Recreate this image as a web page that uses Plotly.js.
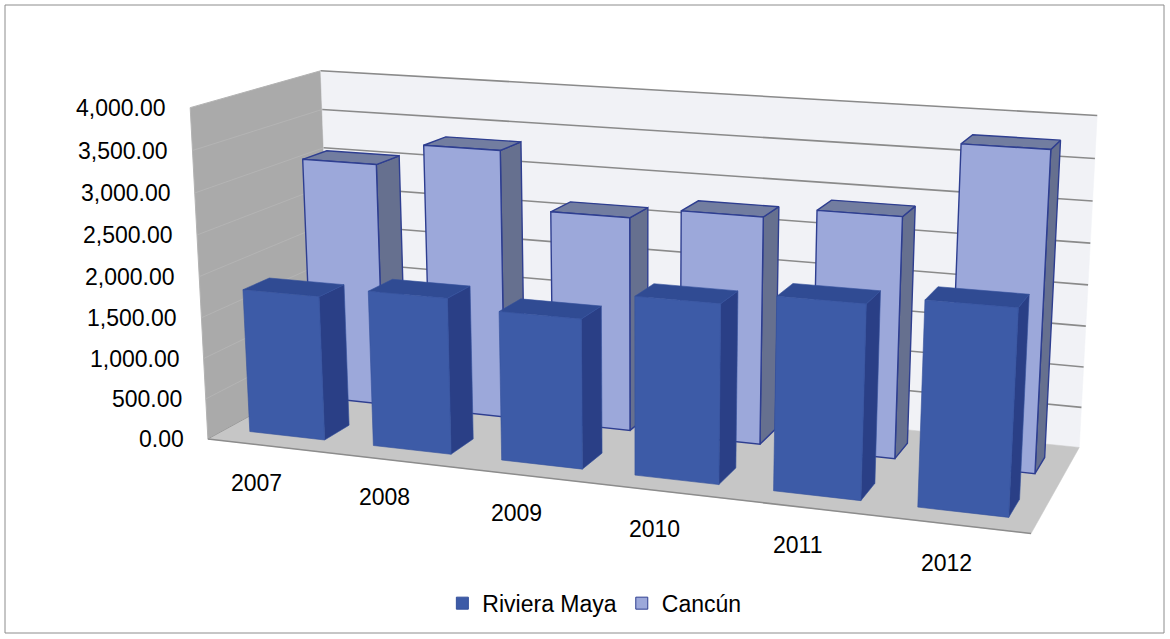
<!DOCTYPE html>
<html>
<head>
<meta charset="utf-8">
<script src="https://cdn.plot.ly/plotly-3.0.1.min.js"></script>
<style>
html,body{margin:0;padding:0;background:#fff;}
#chart{width:1170px;height:639px;}
</style>
</head>
<body>
<div id="chart"></div>
<script>
// ---------------- data ----------------
const categories = ['2007', '2008', '2009', '2010', '2011', '2012'];
const rivieraMaya = [1770, 1890, 1790, 2110, 2250, 2350];
const cancun = [3070, 3350, 2645, 2775, 2900, 3780];
const seriesNames = ['Riviera Maya', 'Cancún'];
const valueTicks = [0, 500, 1000, 1500, 2000, 2500, 3000, 3500, 4000];

// ---------------- 3-D view geometry (world: X = category, Y = depth, Z = value/1000) -------------
const VMAX = 4;
const DEPTH = 2;
const NCAT = categories.length;
const BAR_W = 0.61;
const ROWS = [{y0: 0.27, y1: 0.67}, {y0: 1.27, y1: 1.67}];
const BX = 0.5 - BAR_W / 2;
// where known points of the chart box / bar feet sit on the page (pixels)
const viewCorners = [
  [[0, 0, 0], [207, 437]], [[0, 0, VMAX], [189, 109]],
  [[0, DEPTH, 0], [330, 378]], [[0, DEPTH, VMAX], [322, 70]],
  [[NCAT, 0, 0], [1030, 539]], [[NCAT, DEPTH, 0], [1079, 443]],
  [[NCAT, DEPTH, VMAX], [1097, 115]],
  [[BX, ROWS[0].y0, 0], [251, 429]], [[5 + BX, ROWS[0].y0, 0], [918, 508]],
  [[2 + BX, ROWS[0].y0, 0], [503, 458]],
  [[BX, ROWS[1].y0, 0], [312, 393]], [[2 + BX, ROWS[1].y0, 0], [555, 423]]
];

function solve(A, b) {
  const n = b.length;
  const M = A.map((r, i) => r.concat([b[i]]));
  for (let c = 0; c < n; c++) {
    let p = c;
    for (let r = c + 1; r < n; r++) if (Math.abs(M[r][c]) > Math.abs(M[p][c])) p = r;
    [M[c], M[p]] = [M[p], M[c]];
    for (let r = 0; r < n; r++) {
      if (r === c) continue;
      const f = M[r][c] / M[c][c];
      for (let k = c; k <= n; k++) M[r][k] -= f * M[c][k];
    }
  }
  return M.map((r, i) => r[n] / r[i]);
}
function fitCamera(corr) {
  const rows = [], rhs = [];
  corr.forEach(([P, q]) => {
    const [X, Y, Z] = P, [u, v] = q;
    rows.push([X, Y, Z, 1, 0, 0, 0, 0, -u * X, -u * Y, -u * Z]); rhs.push(u);
    rows.push([0, 0, 0, 0, X, Y, Z, 1, -v * X, -v * Y, -v * Z]); rhs.push(v);
  });
  const ATA = [], ATb = [];
  for (let i = 0; i < 11; i++) {
    ATA.push([]);
    let s = 0;
    for (let r = 0; r < rows.length; r++) s += rows[r][i] * rhs[r];
    ATb.push(s);
    for (let j = 0; j < 11; j++) {
      let t = 0;
      for (let r = 0; r < rows.length; r++) t += rows[r][i] * rows[r][j];
      ATA[i].push(t);
    }
  }
  return solve(ATA, ATb);
}
const cam = fitCamera(viewCorners);
function proj(X, Y, Z) {
  const w = cam[8] * X + cam[9] * Y + cam[10] * Z + 1;
  return [(cam[0] * X + cam[1] * Y + cam[2] * Z + cam[3]) / w,
          (cam[4] * X + cam[5] * Y + cam[6] * Z + cam[7]) / w];
}

// ---------------- styles ----------------
const seriesStyle = [
  {front: '#3d5ba7', side: '#2a3f86', top: '#304b93', edge: '#34509c', edgeW: 0.6},
  {front: '#9ca8da', side: '#66708f', top: '#727da0', edge: '#2e3e90', edgeW: 1.4}
];
const wallStyle = {left: '#aaaaaa', back: '#f1f2f6', floor: '#c6c6c6', grid: '#8a8a8a', leftGrid: '#b4b4b4'};

const traces = [];
function poly(pts3, fill, lineColor, lineW) {
  const p = pts3.map(q => proj(q[0], q[1], q[2]));
  p.push(p[0]);
  traces.push({type: 'scatter', mode: 'lines', x: p.map(a => a[0]), y: p.map(a => a[1]),
    fill: 'toself', fillcolor: fill, line: {color: lineColor, width: lineW},
    hoverinfo: 'skip', showlegend: false});
}
function seg(a, b, color, width) {
  const p = proj(a[0], a[1], a[2]), q = proj(b[0], b[1], b[2]);
  traces.push({type: 'scatter', mode: 'lines', x: [p[0], q[0]], y: [p[1], q[1]],
    line: {color: color, width: width}, hoverinfo: 'skip', showlegend: false});
}

// walls
poly([[0, 0, 0], [0, DEPTH, 0], [0, DEPTH, VMAX], [0, 0, VMAX]], wallStyle.left, '#b3b3b3', 1);
poly([[0, DEPTH, 0], [NCAT, DEPTH, 0], [NCAT, DEPTH, VMAX], [0, DEPTH, VMAX]], wallStyle.back, wallStyle.back, 0.5);
poly([[0, 0, 0], [NCAT, 0, 0], [NCAT, DEPTH, 0], [0, DEPTH, 0]], wallStyle.floor, wallStyle.floor, 0.5);
valueTicks.forEach(t => {
  const z = t / 1000;
  if (t > 0) seg([0, DEPTH, z], [NCAT, DEPTH, z], wallStyle.grid, 1.6);
  if (t > 0 && t < 4000) seg([0, 0, z], [0, DEPTH, z], wallStyle.leftGrid, 1);
});
seg([0, 0, 0], [NCAT, 0, 0], '#8c8c8c', 1.5);
seg([0, 0, 0], [0, DEPTH, 0], '#9a9a9a', 1);

// bars: back row first, left to right
[1, 0].forEach(s => {
  const st = seriesStyle[s];
  const row = ROWS[s];
  const vals = s === 0 ? rivieraMaya : cancun;
  vals.forEach((v, c) => {
    const z = v / 1000;
    const x0 = c + BX, x1 = c + BX + BAR_W;
    poly([[x1, row.y0, 0], [x1, row.y1, 0], [x1, row.y1, z], [x1, row.y0, z]], st.side, st.edge, st.edgeW);
    poly([[x0, row.y0, z], [x1, row.y0, z], [x1, row.y1, z], [x0, row.y1, z]], st.top, st.edge, st.edgeW);
    poly([[x0, row.y0, 0], [x1, row.y0, 0], [x1, row.y0, z], [x0, row.y0, z]], st.front, st.edge, st.edgeW);
  });
});

// legend entries
[0, 1].forEach(s => {
  traces.push({type: 'bar', x: [null], y: [null], name: seriesNames[s],
    marker: {color: seriesStyle[s].front, line: {color: s === 1 ? '#2e3e90' : '#34509c', width: 1}},
    hoverinfo: 'skip'});
});

// axis labels
const annotations = [];
valueTicks.forEach(t => {
  const p = proj(0, 0, t / 1000);
  annotations.push({x: p[0], y: p[1], xref: 'x', yref: 'y', showarrow: false,
    text: t.toLocaleString('en-US', {minimumFractionDigits: 2, maximumFractionDigits: 2}),
    xanchor: 'right', yanchor: 'middle', xshift: -22});
});
categories.forEach((cat, c) => {
  const p = proj(c + 0.48, -0.15, 0);
  annotations.push({x: p[0], y: p[1], xref: 'x', yref: 'y', showarrow: false, text: cat,
    xanchor: 'center', yanchor: 'middle', yshift: -31});
});

const layout = {
  width: 1170, height: 639,
  paper_bgcolor: '#ffffff', plot_bgcolor: 'rgba(0,0,0,0)',
  margin: {l: 0, r: 0, t: 0, b: 0},
  font: {family: 'Liberation Sans, Arial, sans-serif', size: 23, color: '#000'},
  xaxis: {range: [0, 1170], visible: false, fixedrange: true},
  yaxis: {range: [639, 0], visible: false, fixedrange: true},
  showlegend: true,
  legend: {orientation: 'h', x: 0.508, xanchor: 'center', y: 0.056, yanchor: 'middle',
           font: {size: 23}, traceorder: 'normal', bgcolor: 'rgba(0,0,0,0)'},
  annotations: annotations,
  hovermode: false,
  shapes: [{type: 'rect', xref: 'x', yref: 'y', x0: 5, x1: 1164, y0: 5, y1: 633,
            line: {color: '#8c8c8c', width: 1}}]
};

Plotly.newPlot('chart', traces, layout, {displayModeBar: false, staticPlot: true});
</script>
</body>
</html>
